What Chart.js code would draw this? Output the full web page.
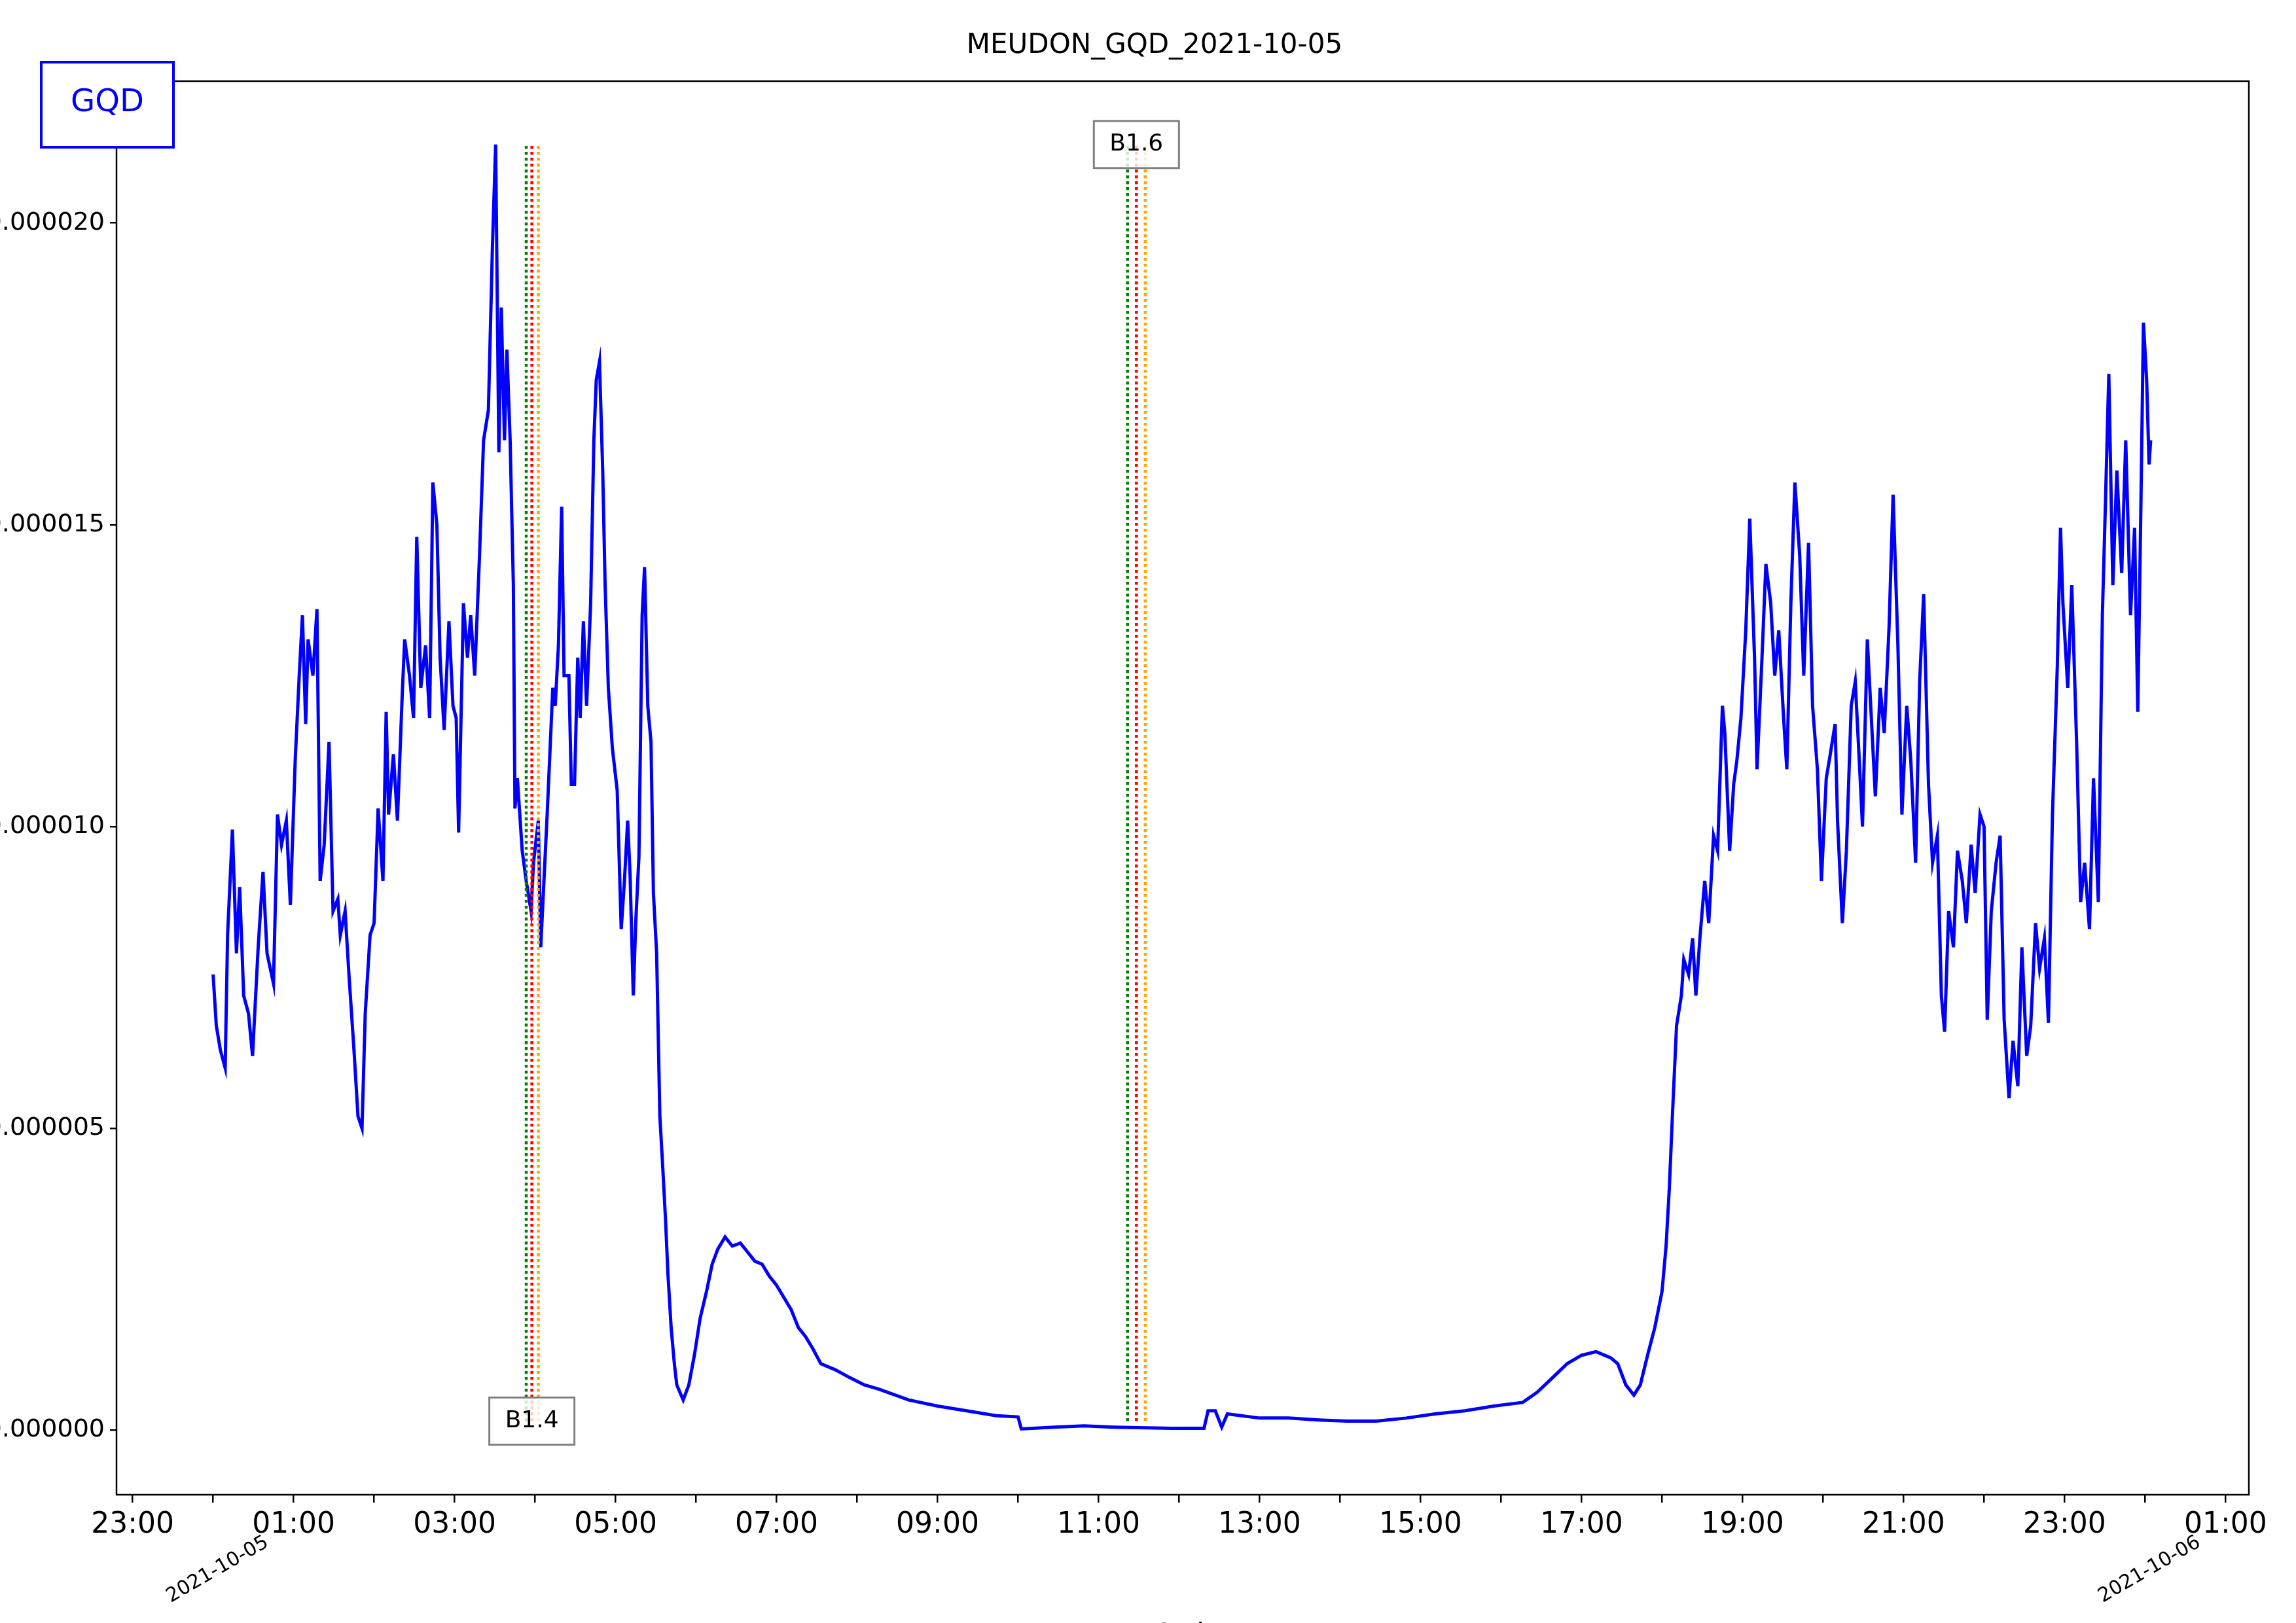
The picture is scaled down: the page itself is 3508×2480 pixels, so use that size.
<!DOCTYPE html>
<html>
<head>
<meta charset="utf-8">
<script src="https://cdn.jsdelivr.net/npm/chart.js@4"></script>
<style>
  html, body { margin: 0; padding: 0; background: #fff; overflow: hidden; }
  #wrap { position: absolute; left: -150px; top: 0; width: 3658px; height: 2480px; }
</style>
</head>
<body>
<div id="wrap"><canvas id="gqdChart" width="3658" height="2480"></canvas></div>
<script>
// hours since 2021-10-05 00:00 UTC
const hours = [0,.04,.09,.15,.18,.24,.29,.33,.38,.44,.49,.56,.62,.67,.75,.8,.85,.91,.96,1.02,1.07,1.11,1.15,1.18,1.24,1.29,1.33,1.38,1.44,1.49,1.55,1.58,1.64,1.69,1.75,1.8,1.85,1.89,1.95,2.0,2.05,2.11,2.15,2.18,2.24,2.29,2.35,2.38,2.44,2.49,2.53,2.58,2.64,2.69,2.73,2.78,2.82,2.87,2.93,2.98,3.02,3.05,3.11,3.16,3.2,3.25,3.31,3.36,3.42,3.47,3.51,3.55,3.58,3.62,3.65,3.69,3.73,3.75,3.78,3.84,3.89,3.95,3.98,4.04,4.07,4.11,4.15,4.18,4.22,4.25,4.29,4.33,4.36,4.42,4.45,4.49,4.53,4.56,4.6,4.64,4.69,4.73,4.76,4.8,4.84,4.87,4.91,4.96,5.02,5.07,5.11,5.15,5.18,5.22,5.25,5.29,5.33,5.36,5.4,5.44,5.47,5.51,5.55,5.58,5.62,5.65,5.69,5.73,5.76,5.84,5.91,5.98,6.05,6.13,6.2,6.27,6.36,6.45,6.55,6.64,6.73,6.82,6.91,7.0,7.09,7.18,7.27,7.36,7.45,7.55,7.73,7.91,8.09,8.27,8.64,9.0,9.36,9.73,10.0,10.04,10.45,10.82,11.18,11.91,12.31,12.36,12.45,12.53,12.6,13.0,13.36,13.73,14.09,14.45,14.82,15.18,15.55,15.91,16.27,16.45,16.64,16.82,17.0,17.18,17.36,17.45,17.55,17.65,17.73,17.82,17.91,18.0,18.05,18.09,18.13,18.18,18.24,18.27,18.33,18.38,18.42,18.47,18.53,18.58,18.64,18.69,18.75,18.78,18.84,18.89,18.93,18.98,19.04,19.09,19.15,19.18,19.24,19.29,19.35,19.4,19.45,19.51,19.55,19.6,19.65,19.71,19.76,19.82,19.87,19.93,19.98,20.04,20.09,20.15,20.18,20.24,20.29,20.35,20.4,20.45,20.49,20.55,20.6,20.65,20.71,20.76,20.82,20.87,20.93,20.98,21.04,21.09,21.15,21.2,21.25,21.31,21.36,21.42,21.47,21.51,21.56,21.62,21.67,21.73,21.78,21.84,21.89,21.95,22.0,22.04,22.09,22.15,22.2,22.25,22.31,22.36,22.42,22.47,22.53,22.58,22.64,22.69,22.75,22.8,22.85,22.91,22.95,22.98,23.04,23.09,23.15,23.2,23.25,23.31,23.36,23.42,23.47,23.51,23.55,23.6,23.65,23.71,23.76,23.82,23.87,23.91,23.95,23.98,24.02,24.05,24.07];
// flux in units of 1e-6
const flux = [7.55,6.7,6.3,6.0,8.2,9.95,7.9,9.0,7.2,6.9,6.2,8.0,9.25,7.9,7.4,10.2,9.7,10.1,8.7,11.1,12.5,13.5,11.7,13.1,12.5,13.6,9.1,9.7,11.4,8.6,8.8,8.2,8.6,7.5,6.3,5.2,5.0,6.9,8.2,8.4,10.3,9.1,11.9,10.2,11.2,10.1,12.2,13.1,12.5,11.8,14.8,12.3,13.0,11.8,15.7,15.0,12.8,11.6,13.4,12.0,11.8,9.9,13.7,12.8,13.5,12.5,14.5,16.4,16.9,19.6,21.3,16.2,18.6,16.4,17.9,16.4,14.0,10.3,10.8,9.6,9.1,8.6,9.4,10.1,8.0,9.1,10.2,11.1,12.3,12.0,13.0,15.3,12.5,12.5,10.7,10.7,12.8,11.8,13.4,12.0,13.7,16.4,17.4,17.7,15.9,14.0,12.3,11.3,10.6,8.3,9.1,10.1,9.2,7.2,8.4,9.5,13.5,14.3,12.0,11.4,8.9,7.9,5.2,4.5,3.5,2.6,1.7,1.1,.75,.5,.75,1.25,1.85,2.3,2.75,3.0,3.2,3.05,3.1,2.95,2.8,2.75,2.55,2.4,2.2,2.0,1.7,1.55,1.35,1.1,1.0,.87,.75,.68,.5,.4,.32,.24,.22,.02,.05,.07,.05,.03,.03,.32,.32,.05,.27,.2,.2,.17,.15,.15,.2,.27,.32,.4,.46,.63,.87,1.1,1.24,1.3,1.2,1.1,.75,.58,.75,1.24,1.7,2.3,3.05,4.0,5.25,6.7,7.2,7.8,7.55,8.15,7.2,8.15,9.1,8.4,9.85,9.6,12.0,11.55,9.6,10.7,11.1,11.8,13.25,15.1,12.75,10.95,12.75,14.35,13.7,12.5,13.25,11.8,10.95,13.7,15.7,14.5,12.5,14.7,12.0,10.95,9.1,10.8,11.2,11.7,10.1,8.4,9.6,12.0,12.4,11.1,10.0,13.1,11.8,10.5,12.3,11.55,13.3,15.5,13.0,10.2,12.0,11.1,9.4,12.4,13.85,10.7,9.4,9.85,7.2,6.6,8.6,8.0,9.6,9.1,8.4,9.7,8.9,10.2,10.0,6.8,8.6,9.4,9.85,6.8,5.5,6.45,5.7,8.0,6.2,6.7,8.4,7.65,8.15,6.75,10.2,12.65,14.95,13.7,12.3,14.0,11.4,8.75,9.4,8.3,10.8,8.75,13.5,15.45,17.5,14.0,15.9,14.2,16.4,13.5,14.95,11.9,15.45,18.35,17.4,16.0,16.4];

// flare markers: start / peak / end times (hours) and class labels
const flareNames = ["B1.4", "B1.6"];
const flareStart = [3.89, 11.36];
const flarePeak = [3.96, 11.47];
const flareEnd = [4.04, 11.58];
const flareLabelAtTop = [false, true];
const markerLow = 0.15;
const markerHigh = 21.3;

const yTicks = [0, 5, 10, 15, 20];
const OFFSET = 150;

function vline(x, color) {
  return {
    data: [{ x: x, y: markerLow }, { x: x, y: markerHigh }],
    borderColor: color, borderWidth: 4.5, borderDash: [4.5, 4.5],
    pointRadius: 0, fill: false, order: 0
  };
}

const datasets = [{
  data: hours.map((h, i) => ({ x: h, y: flux[i] })),
  borderColor: "#0000ff", borderWidth: 5, pointRadius: 0, tension: 0, order: 1
}];
for (let i = 0; i < flareNames.length; i++) {
  datasets.push(vline(flareStart[i], "#008000"));
  datasets.push(vline(flarePeak[i], "#ff0000"));
  datasets.push(vline(flareEnd[i], "#ffa500"));
}

function pad2(n) { return (n < 10 ? "0" : "") + n; }

const decorations = {
  id: "decorations",
  afterDraw(chart) {
    const c = chart.ctx, a = chart.chartArea;
    const xs = chart.scales.x, ys = chart.scales.y;
    c.save();
    // frame
    c.strokeStyle = "#000"; c.lineWidth = 2.5;
    c.strokeRect(a.left, a.top, a.right - a.left, a.bottom - a.top);
    // title
    c.fillStyle = "#000"; c.textAlign = "center"; c.textBaseline = "middle";
    c.font = "42px 'DejaVu Sans'";
    c.fillText("MEUDON_GQD_2021-10-05", 1764 + OFFSET, 70);
    c.fillText("UTC Time", (a.left + a.right) / 2, 2500);
    // GQD box
    c.strokeStyle = "#0000ff"; c.lineWidth = 4;
    c.fillStyle = "#fff";
    c.fillRect(63 + OFFSET, 95, 202, 130);
    c.strokeRect(63 + OFFSET, 95, 202, 130);
    c.fillStyle = "#0000ff"; c.font = "48px 'DejaVu Sans'";
    c.fillText("GQD", 164 + OFFSET, 158);
    // flare labels
    c.font = "36px 'DejaVu Sans'";
    for (let i = 0; i < flareNames.length; i++) {
      const px = xs.getPixelForValue(flarePeak[i]);
      const py = ys.getPixelForValue(flareLabelAtTop[i] ? markerHigh : markerLow);
      const w = 130, h = 72;
      c.fillStyle = "rgba(255,255,255,0.8)";
      c.fillRect(px - w / 2, py - h / 2, w, h);
      c.strokeStyle = "#808080"; c.lineWidth = 3;
      c.strokeRect(px - w / 2, py - h / 2, w, h);
      c.fillStyle = "#000";
      c.fillText(flareNames[i], px, py);
    }
    // date labels at midnights
    c.font = "30px 'DejaVu Sans'";
    c.textAlign = "right"; c.textBaseline = "top";
    [[0, "2021-10-05"], [24, "2021-10-06"]].forEach(([h, s]) => {
      const px = xs.getPixelForValue(h);
      c.save();
      c.translate(px + 75, a.bottom + 58);
      c.rotate(-Math.PI / 6);
      c.fillText(s, 0, 0);
      c.restore();
    });
    c.restore();
  }
};

new Chart(document.getElementById("gqdChart"), {
  type: "line",
  data: { datasets: datasets },
  options: {
    responsive: false,
    animation: false,
    devicePixelRatio: 1,
    layout: { padding: { top: 124, right: 72, left: 0, bottom: 0 } },
    plugins: { legend: { display: false }, tooltip: { enabled: false } },
    scales: {
      x: {
        type: "linear", min: -1.2, max: 25.29,
        afterBuildTicks: (s) => { s.ticks = []; for (let h = -1; h <= 25; h++) s.ticks.push({ value: h }); },
        afterFit: (s) => { s.height = 196; },
        border: { display: false },
        grid: { drawOnChartArea: false, color: "#000", lineWidth: 2.5, tickLength: 12 },
        ticks: {
          color: "#000", font: { family: "DejaVu Sans", size: 44 }, maxRotation: 0, autoSkip: false, padding: 8,
          callback: (v) => (((v % 2) + 2) % 2 === 1 ? pad2(((v % 24) + 24) % 24) + ":00" : "")
        }
      },
      y: {
        min: -1.07, max: 22.35,
        afterBuildTicks: (s) => { s.ticks = yTicks.map(v => ({ value: v })); },
        afterFit: (s) => { s.width = 178 + OFFSET; },
        border: { display: false },
        grid: { drawOnChartArea: false, color: "#000", lineWidth: 2.5, tickLength: 10 },
        ticks: {
          color: "#000", font: { family: "DejaVu Sans", size: 38 }, padding: 8,
          callback: (v) => (v * 1e-6).toFixed(6)
        }
      }
    }
  },
  plugins: [decorations]
});
</script>
</body>
</html>
